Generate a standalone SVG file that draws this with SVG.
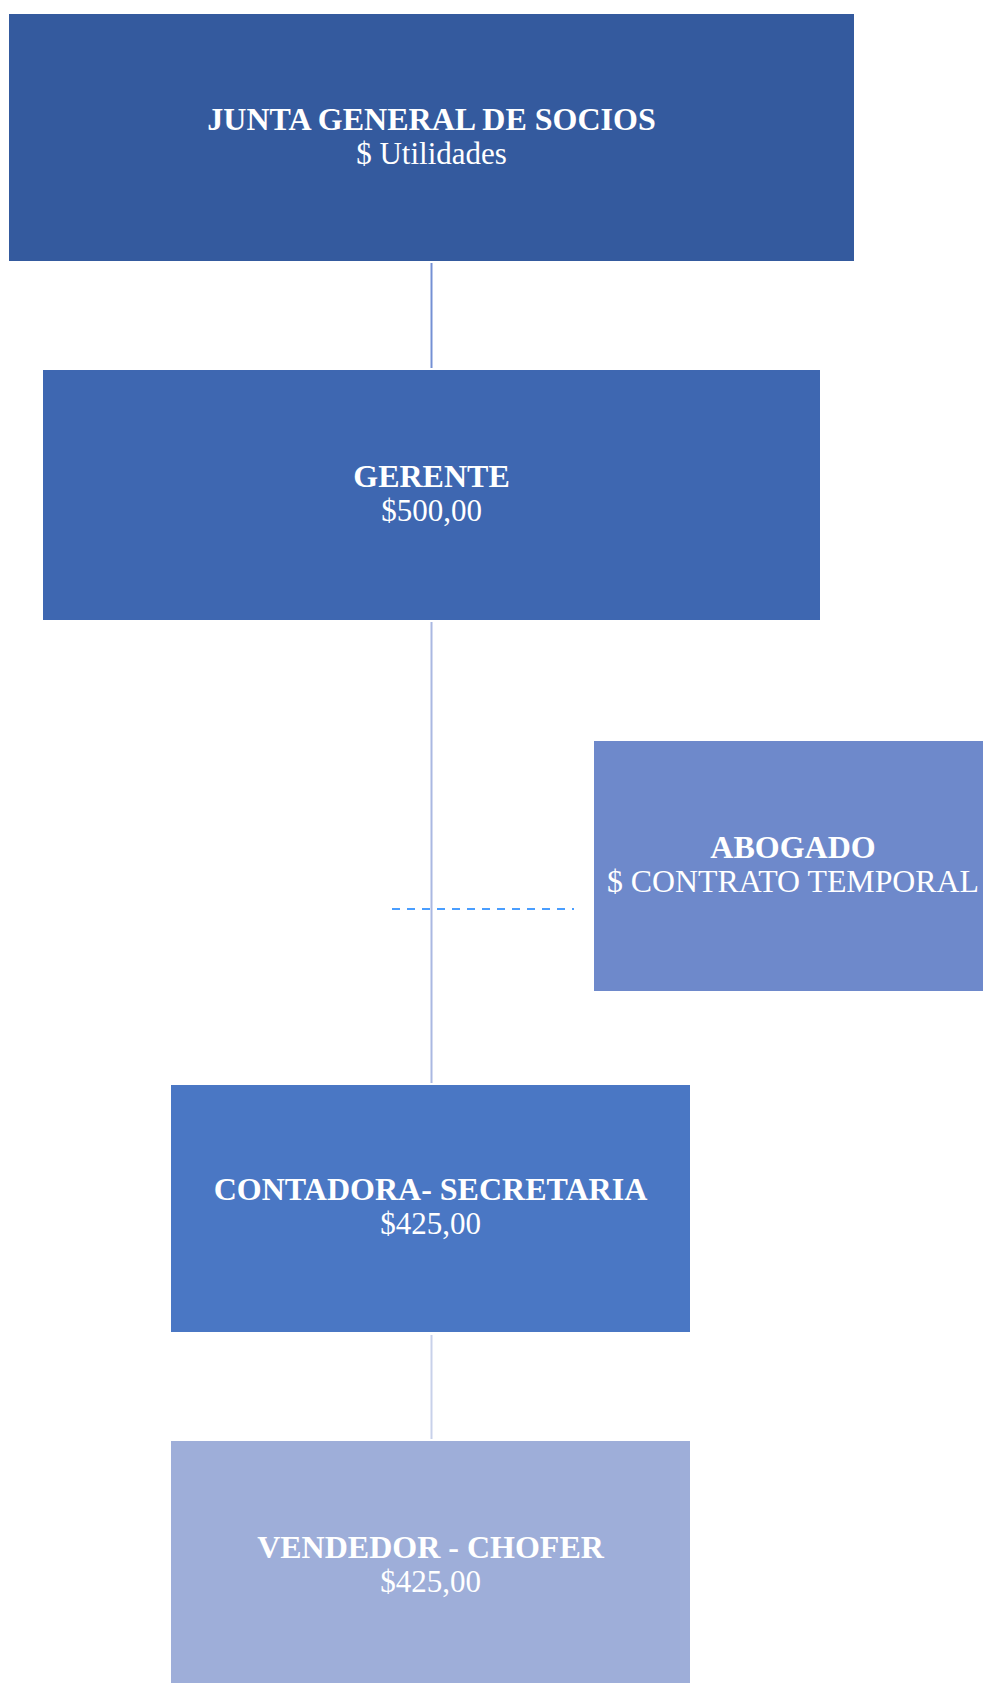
<svg xmlns="http://www.w3.org/2000/svg" width="983" height="1683" viewBox="0 0 983 1683">
  <style>
    text { font-family: "Liberation Serif", "Times New Roman", serif; fill: #ffffff; text-anchor: middle; }
    .title { font-size: 32px; font-weight: bold; }
    .sub { font-size: 31px; }
    .link { fill: none; stroke-width: 2; }
  </style>
  <rect width="983" height="1683" fill="#ffffff"/>

  <!-- connectors -->
  <g id="connectors">
    <line class="link" x1="431.5" y1="263" x2="431.5" y2="368" stroke="#7490d4"/>
    <line class="link" x1="431.5" y1="622" x2="431.5" y2="1083" stroke="#aab8e2"/>
    <line class="link" x1="431.5" y1="1335" x2="431.5" y2="1439" stroke="#c8d1ea"/>
    <line class="link" x1="392" y1="909" x2="574" y2="909" stroke="#4a9eff" stroke-dasharray="8 7"/>
  </g>

  <g id="junta">
    <rect x="9" y="14" width="845" height="247" fill="#345a9e"/>
    <text class="title" x="431.5" y="130">JUNTA GENERAL DE SOCIOS</text>
    <text class="sub" x="431.5" y="164">$ Utilidades</text>
  </g>

  <g id="gerente">
    <rect x="43" y="370" width="777" height="250" fill="#3e67b1"/>
    <text class="title" x="431.5" y="487">GERENTE</text>
    <text class="sub" x="431.5" y="521">$500,00</text>
  </g>

  <g id="abogado">
    <rect x="594" y="741" width="396" height="250" fill="#6e89cb"/>
    <text class="title" x="793" y="858">ABOGADO</text>
    <text class="sub" x="793" y="892" textLength="372" lengthAdjust="spacingAndGlyphs">$ CONTRATO TEMPORAL</text>
  </g>

  <g id="contadora">
    <rect x="171" y="1085" width="519" height="247" fill="#4a77c4"/>
    <text class="title" x="430.5" y="1200">CONTADORA- SECRETARIA</text>
    <text class="sub" x="430.5" y="1234">$425,00</text>
  </g>

  <g id="vendedor">
    <rect x="171" y="1441" width="519" height="250" fill="#9eaed9"/>
    <text class="title" x="430.5" y="1558">VENDEDOR - CHOFER</text>
    <text class="sub" x="430.5" y="1592">$425,00</text>
  </g>
</svg>
